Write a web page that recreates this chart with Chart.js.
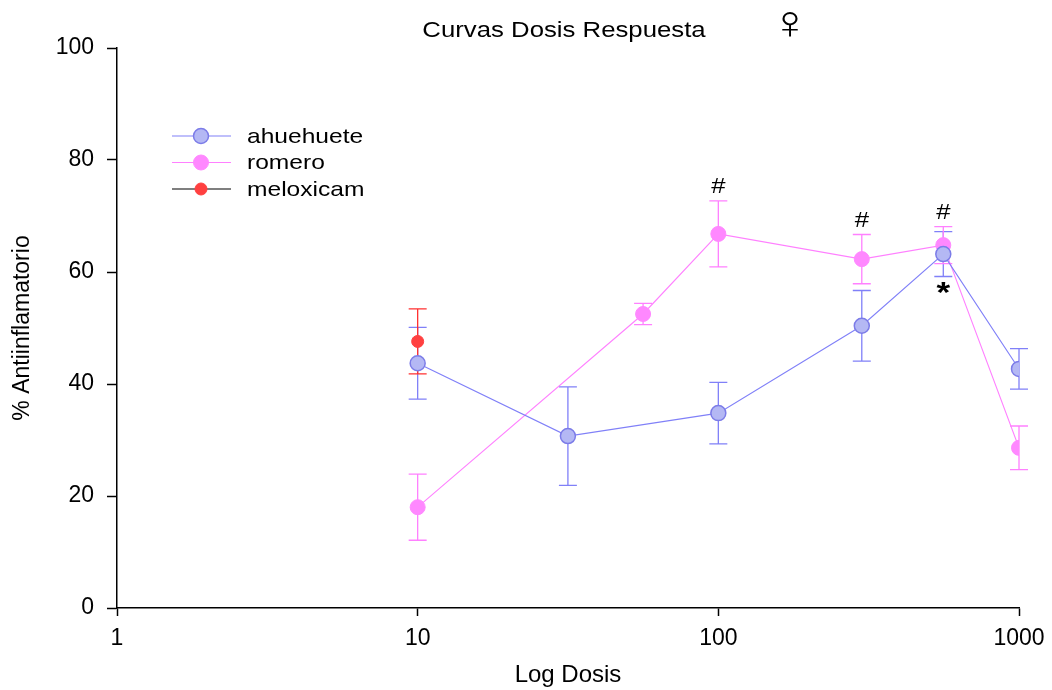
<!DOCTYPE html>
<html lang="es">
<head>
  <meta charset="UTF-8" />
  <title>Curvas Dosis Respuesta</title>
  <script src="https://cdn.jsdelivr.net/npm/chart.js"></script>
  <style>
    body { margin: 0; background: #fff; }
    .wrap { width: 1052px; height: 690px; position: relative; }
  </style>
</head>
<body>
  <div class="wrap"><canvas id="doseChart"></canvas></div>
  <script>
    // doses (mg/kg) and % anti-inflammatory effect
    const ahuDose = [10, 31.6, 100, 300, 560, 1000];
    const ahuMean = [43.7, 30.7, 34.8, 50.4, 63.2, 42.7];
    const ahuErr  = [6.4, 8.8, 5.5, 6.3, 4.0, 3.6];

    const romDose = [10, 56.2, 100, 300, 560, 1000];
    const romMean = [18.0, 52.5, 66.8, 62.3, 64.8, 28.6];
    const romErr  = [5.9, 1.9, 5.9, 4.4, 3.3, 3.9];

    const meloDose = [10];
    const meloMean = [47.6];
    const meloErr  = [5.8];

    const xTicks = [1, 10, 100, 1000];
    const yTicks = [0, 20, 40, 60, 80, 100];

    // significance marks: dataset, point index, text, above/below
    const marks = [
      { ds: 1, i: 2, text: '#', side: 'above' },
      { ds: 1, i: 3, text: '#', side: 'above' },
      { ds: 1, i: 4, text: '#', side: 'above' },
      { ds: 0, i: 4, text: '*', side: 'below' }
    ];

    const FONT = '"Liberation Sans", Arial, sans-serif';
    const STRETCH = 1.17; // the source image is a bit wider than tall

    function pts(xs, ys) {
      return xs.map((x, i) => ({ x: x, y: ys[i] }));
    }

    // text stretched sideways like in the original picture
    function wideText(ctx, txt, x, y, align) {
      ctx.save();
      ctx.translate(x, y);
      ctx.scale(STRETCH, 1);
      ctx.textAlign = align;
      ctx.fillText(txt, 0, 0);
      ctx.restore();
    }

    const errors = [ahuErr, romErr, meloErr];

    const errorBars = {
      id: 'errorBars',
      beforeDatasetsDraw(chart) {
        const ctx = chart.ctx;
        const xs = chart.scales.x, ys = chart.scales.y;
        chart.data.datasets.forEach((ds, d) => {
          ctx.save();
          ctx.strokeStyle = ds.errColor;
          ctx.lineWidth = 1.3;
          ds.data.forEach((p, i) => {
            const e = errors[d][i];
            const px = xs.getPixelForValue(p.x);
            const top = ys.getPixelForValue(p.y + e);
            const bot = ys.getPixelForValue(p.y - e);
            ctx.beginPath();
            ctx.moveTo(px, top); ctx.lineTo(px, bot);
            ctx.moveTo(px - 9, top); ctx.lineTo(px + 9, top);
            ctx.moveTo(px - 9, bot); ctx.lineTo(px + 9, bot);
            ctx.stroke();
          });
          ctx.restore();
        });
      },
      afterDatasetsDraw(chart) {
        const ctx = chart.ctx;
        const xs = chart.scales.x, ys = chart.scales.y;
        ctx.save();
        ctx.fillStyle = '#000';
        ctx.textBaseline = 'middle';
        marks.forEach(m => {
          const p = chart.data.datasets[m.ds].data[m.i];
          const e = errors[m.ds][m.i];
          const px = xs.getPixelForValue(p.x);
          if (m.side === 'above') {
            ctx.font = '22px ' + FONT;
            wideText(ctx, m.text, px, ys.getPixelForValue(p.y + e) - 14, 'center');
          } else {
            ctx.font = 'bold 30px ' + FONT;
            wideText(ctx, m.text, px, ys.getPixelForValue(p.y - e) + 17, 'center');
          }
        });

        // title
        ctx.font = '22px ' + FONT;
        wideText(ctx, 'Curvas Dosis Respuesta', 564, 31, 'center');
        ctx.font = '46px ' + FONT;
        wideText(ctx, '\u2640', 790, 25, 'center');

        // legend
        chart.data.datasets.forEach((ds, k) => {
          const y = 136 + k * 26.5;
          ctx.strokeStyle = ds.borderColor;
          ctx.lineWidth = 1.2;
          ctx.beginPath();
          ctx.moveTo(172, y); ctx.lineTo(231, y);
          ctx.stroke();
          ctx.beginPath();
          ctx.arc(201, y, ds.pointRadius, 0, Math.PI * 2);
          ctx.fillStyle = ds.pointBackgroundColor;
          ctx.fill();
          ctx.lineWidth = ds.pointBorderWidth;
          ctx.strokeStyle = ds.pointBorderColor;
          ctx.stroke();
          ctx.fillStyle = '#000';
          ctx.font = '21px ' + FONT;
          wideText(ctx, ds.label, 247, y + 1, 'left');
        });
        ctx.restore();
      }
    };

    new Chart(document.getElementById('doseChart'), {
      type: 'line',
      data: {
        datasets: [
          {
            label: 'ahuehuete',
            data: pts(ahuDose, ahuMean),
            borderColor: '#8080f8',
            borderWidth: 1.1,
            pointRadius: 7.5,
            pointBackgroundColor: '#b4b8f4',
            pointBorderColor: '#7c7ce8',
            pointBorderWidth: 1.5,
            errColor: '#8080f8'
          },
          {
            label: 'romero',
            data: pts(romDose, romMean),
            borderColor: '#ff80ff',
            borderWidth: 1.1,
            pointRadius: 7.5,
            pointBackgroundColor: '#ff88ff',
            pointBorderColor: '#ff88ff',
            pointBorderWidth: 1,
            errColor: '#ff80ff'
          },
          {
            label: 'meloxicam',
            data: pts(meloDose, meloMean),
            borderColor: '#000000',
            borderWidth: 1.1,
            pointRadius: 6,
            pointBackgroundColor: '#ff4040',
            pointBorderColor: '#ff4040',
            pointBorderWidth: 1,
            errColor: '#ff3030'
          }
        ]
      },
      options: {
        responsive: true,
        maintainAspectRatio: false,
        animation: false,
        layout: { padding: { top: 48, right: 33, left: 0, bottom: 0 } },
        plugins: {
          legend: { display: false },
          tooltip: { enabled: false }
        },
        scales: {
          x: {
            type: 'logarithmic',
            min: 1,
            max: 1000,
            afterBuildTicks: s => { s.ticks = xTicks.map(v => ({ value: v })); },
            afterFit: s => { s.height = 82; s.paddingLeft = 0; s.paddingRight = 0; },
            border: { color: '#000', width: 1.5 },
            grid: { drawOnChartArea: false, tickLength: 8, tickColor: '#000', tickWidth: 1.5 },
            ticks: {
              color: '#000',
              font: { family: FONT, size: 23 },
              padding: 9,
              maxRotation: 0,
              callback: v => String(v)
            },
            title: {
              display: true,
              text: 'Log Dosis',
              color: '#000',
              font: { family: FONT, size: 24 },
              padding: { top: 0, bottom: 0 }
            }
          },
          y: {
            min: 0,
            max: 100,
            afterBuildTicks: s => { s.ticks = yTicks.map(v => ({ value: v })); },
            afterFit: s => { s.width = 117; },
            border: { color: '#000', width: 1.5 },
            grid: { drawOnChartArea: false, tickLength: 10, tickColor: '#000', tickWidth: 1.5 },
            ticks: {
              color: '#000',
              font: { family: FONT, size: 23 },
              padding: 13
            },
            title: {
              display: true,
              text: '% Antiinflamatorio',
              color: '#000',
              font: { family: FONT, size: 23 },
              padding: { top: 9, bottom: 0 }
            }
          }
        }
      },
      plugins: [errorBars]
    });
  </script>
</body>
</html>
